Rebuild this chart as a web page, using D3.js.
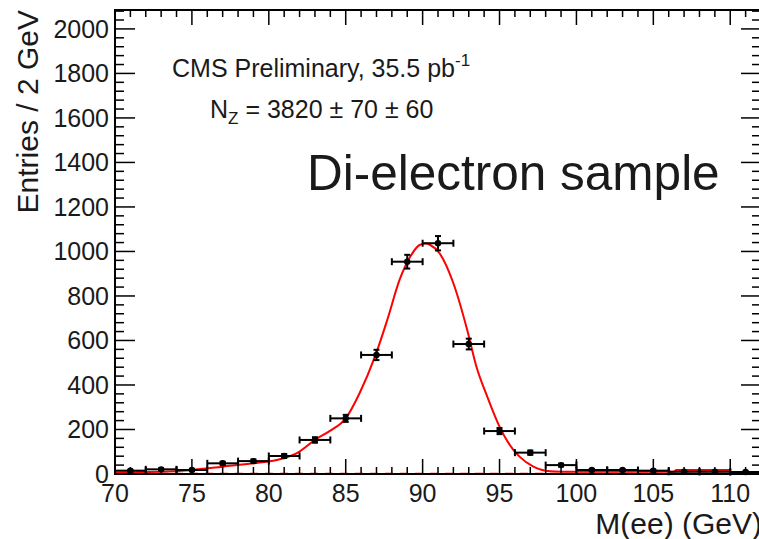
<!DOCTYPE html>
<html>
<head>
<meta charset="utf-8">
<script src="https://cdn.jsdelivr.net/npm/d3@7"></script>
<style>
  html, body { margin: 0; padding: 0; background: #fff; }
  svg { display: block; font-family: "Liberation Sans", Arial, Helvetica, sans-serif; }
</style>
</head>
<body>
<div id="chart"></div>
<script>
// Histogram bins (2 GeV wide), centres and entries
const binCentres = [71, 73, 75, 77, 79, 81, 83, 85, 87, 89, 91, 93, 95, 97, 99, 101, 103, 105, 107, 109, 111];
const binEntries = [15, 21, 18, 48, 58, 81, 153, 250, 535, 954, 1037, 584, 193, 96, 40, 18, 18, 15, 10, 10, 9];

// Fit curve
const fitMass  = [70, 72, 73, 75, 77, 79, 80.5, 81.8, 83.1, 84, 85, 85.9, 86.9, 87.7, 88.5, 89.2, 89.8, 90.2, 90.5, 91.1, 92, 92.9, 93.5, 94.2, 95, 95.9, 96.3, 97.2, 98.3, 99, 106.3, 106.5, 110];
const fitValue = [7, 9, 10, 18, 33, 48, 63, 93, 158, 195, 250, 363, 527, 692, 872, 977, 1029, 1036, 1029, 992, 857, 647, 482, 348, 213, 108, 78, 33, 12, 10, 10, 18, 18];

// Background component (dashed, near zero)
const bkgMass  = [70, 112];
const bkgValue = [1, 1];

const xTicks = [70, 75, 80, 85, 90, 95, 100, 105, 110];
const yTicks = [0, 200, 400, 600, 800, 1000, 1200, 1400, 1600, 1800, 2000];

const width = 759, height = 539;
const margin = { top: 10, right: -2, bottom: 65, left: 115 };
const binHalf = 1;
const textColor = '#1a1a1a';

const svg = d3.select('#chart').append('svg')
  .attr('width', width)
  .attr('height', height);

const x = d3.scaleLinear()
  .domain([70, 112])
  .range([margin.left, width - margin.right]);

const y = d3.scaleLinear()
  .domain([0, 2085])
  .range([height - margin.bottom, margin.top]);

const x0 = x.range()[0], x1 = x.range()[1];
const y0 = y.range()[0], y1 = y.range()[1];

// Background dashed line and fit
svg.append('path')
  .attr('d', d3.line().x(d => x(d[0])).y(d => y(d[1]))(d3.zip(bkgMass, bkgValue)))
  .attr('fill', 'none')
  .attr('stroke', '#ff0000')
  .attr('stroke-width', 2)
  .attr('stroke-dasharray', '8,7');

svg.append('path')
  .attr('d', d3.line().curve(d3.curveMonotoneX).x(d => x(d[0])).y(d => y(d[1]))(d3.zip(fitMass, fitValue)))
  .attr('fill', 'none')
  .attr('stroke', '#ff0000')
  .attr('stroke-width', 2);

// Axis frame with ROOT style ticks
const frame = svg.append('g').attr('stroke', '#000');

frame.append('rect')
  .attr('x', x0).attr('y', y1)
  .attr('width', x1 - x0).attr('height', y0 - y1)
  .attr('fill', 'none')
  .attr('stroke-width', 2);

const xMinor = d3.range(70, 112.01, 1);
const yMinor = d3.range(0, 2085, 40);

xMinor.forEach(v => {
  const major = v % 5 === 0;
  const len = major ? 15 : 7;
  frame.append('line').attr('x1', x(v)).attr('x2', x(v)).attr('y1', y0).attr('y2', y0 - len).attr('stroke-width', 1.5);
  frame.append('line').attr('x1', x(v)).attr('x2', x(v)).attr('y1', y1).attr('y2', y1 + len).attr('stroke-width', 1.5);
});

yMinor.forEach(v => {
  const major = v % 200 === 0;
  const len = major ? 20 : 9;
  frame.append('line').attr('x1', x0).attr('x2', x0 + len).attr('y1', y(v)).attr('y2', y(v)).attr('stroke-width', 1.5);
  frame.append('line').attr('x1', x1).attr('x2', x1 - len).attr('y1', y(v)).attr('y2', y(v)).attr('stroke-width', 1.5);
});

// Tick labels
svg.append('g').selectAll('text')
  .data(xTicks)
  .join('text')
  .attr('x', d => x(d))
  .attr('y', y0 + 28)
  .attr('text-anchor', 'middle')
  .attr('font-size', 25)
  .attr('fill', textColor)
  .text(d => d);

svg.append('g').selectAll('text')
  .data(yTicks)
  .join('text')
  .attr('x', x0 - 6)
  .attr('y', d => y(d))
  .attr('dy', '0.36em')
  .attr('text-anchor', 'end')
  .attr('font-size', 25)
  .attr('fill', textColor)
  .text(d => d);

// Axis titles
svg.append('text')
  .attr('transform', `translate(${x1 + 1},${height - 5})`)
  .attr('text-anchor', 'end')
  .attr('font-size', 30)
  .attr('fill', textColor)
  .text('M(ee) (GeV)');

svg.append('text')
  .attr('transform', `translate(38,${y1}) rotate(-90)`)
  .attr('text-anchor', 'end')
  .attr('font-size', 30)
  .attr('fill', textColor)
  .text('Entries / 2 GeV');

// Data points with error bars
const pts = svg.append('g').attr('stroke', '#000').attr('stroke-width', 2);

binCentres.forEach((c, i) => {
  const v = binEntries[i];
  const e = Math.sqrt(v);
  const g = pts.append('g');
  g.append('line').attr('x1', x(c - binHalf)).attr('x2', x(c + binHalf)).attr('y1', y(v)).attr('y2', y(v));
  g.append('line').attr('x1', x(c - binHalf)).attr('x2', x(c - binHalf)).attr('y1', y(v) - 3.5).attr('y2', y(v) + 3.5);
  g.append('line').attr('x1', x(c + binHalf)).attr('x2', x(c + binHalf)).attr('y1', y(v) - 3.5).attr('y2', y(v) + 3.5);
  g.append('line').attr('x1', x(c)).attr('x2', x(c)).attr('y1', y(v - e)).attr('y2', y(v + e));
  g.append('line').attr('x1', x(c) - 3).attr('x2', x(c) + 3).attr('y1', y(v + e)).attr('y2', y(v + e));
  g.append('line').attr('x1', x(c) - 3).attr('x2', x(c) + 3).attr('y1', y(v - e)).attr('y2', y(v - e));
  g.append('circle').attr('cx', x(c)).attr('cy', y(v)).attr('r', 3.2).attr('fill', '#000').attr('stroke', 'none');
});

// Annotations
const cms = svg.append('text')
  .attr('x', 172).attr('y', 77)
  .attr('font-size', 25)
  .attr('fill', textColor);
cms.append('tspan').text('CMS Preliminary, 35.5 pb');
cms.append('tspan').attr('dy', -11).attr('font-size', 17).text('-1');

const nz = svg.append('text')
  .attr('x', 210).attr('y', 118)
  .attr('font-size', 25)
  .attr('fill', textColor);
nz.append('tspan').text('N');
nz.append('tspan').attr('dy', 6).attr('font-size', 17).text('Z');
nz.append('tspan').attr('dy', -6).text(' = 3820 \u00b1 70 \u00b1 60');

svg.append('text')
  .attr('x', 307).attr('y', 190)
  .attr('font-size', 49.5)
  .attr('fill', textColor)
  .text('Di-electron sample');
</script>
</body>
</html>
